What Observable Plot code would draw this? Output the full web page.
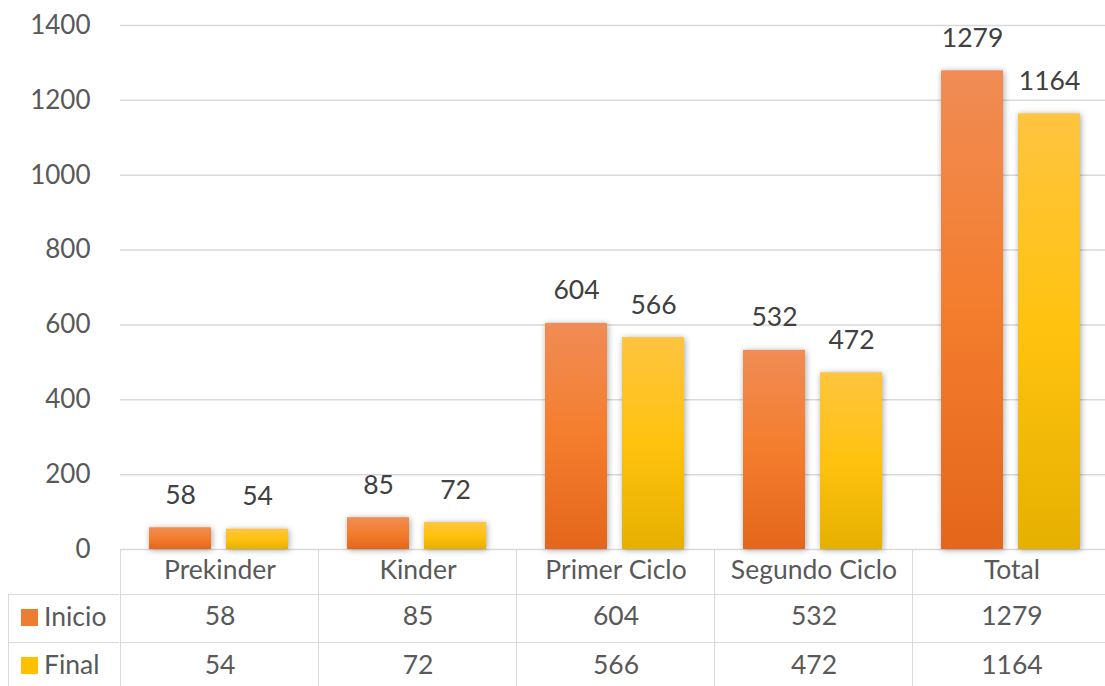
<!DOCTYPE html>
<html><head><meta charset="utf-8">
<script src="https://cdn.jsdelivr.net/npm/d3@7"></script>
<script src="https://cdn.jsdelivr.net/npm/@observablehq/plot@0.6"></script>
<style>
html,body{margin:0;padding:0;background:#fff;overflow:hidden;}
#wrap{position:relative;width:1112px;height:686px;font-family:Lato, "Open Sans", sans-serif;color:#595959;}
#wrap svg{position:absolute;left:0;top:0;}
.cell{position:absolute;box-sizing:border-box;display:flex;align-items:center;justify-content:center;font-size:26.5px;padding-bottom:6px;border-color:#d9d9d9;border-style:solid;border-width:0;}
.sw{display:inline-block;width:17px;height:17px;margin-right:6px;margin-top:4px;}
</style></head><body><div id="wrap"></div>
<script>
const categories = ["Prekinder", "Kinder", "Primer Ciclo", "Segundo Ciclo", "Total"];
const series = ["Inicio", "Final"];
const inicio = [58, 85, 604, 532, 1279];
const finalV = [54, 72, 566, 472, 1164];
const yTicks = [0, 200, 400, 600, 800, 1000, 1200, 1400];
const solidColors = ["#ED7D31", "#FFC000"];

const rows = categories.flatMap((c, i) => [
  {category: c, serie: "Inicio", value: inicio[i]},
  {category: c, serie: "Final", value: finalV[i]}
]);

const chart = Plot.plot({
  width: 1112, height: 550,
  marginTop: 25, marginBottom: 1, marginLeft: 118, marginRight: 0,
  style: {fontFamily: 'Lato, "Open Sans", sans-serif', fontSize: "26px", color: "#595959", background: "transparent", overflow: "visible"},
  fx: {domain: categories, padding: 0, axis: null},
  x: {domain: series, paddingInner: 0.19, paddingOuter: 0.375, axis: null},
  y: {domain: [0, 1400], axis: null},
  color: {domain: series, range: ["url(#gO)", "url(#gY)"]},
  marks: [
    Plot.gridY(yTicks, {stroke: "#d9d9d9", strokeOpacity: 1, strokeWidth: 1.5}),
    Plot.barY(rows, {fx: "category", x: "serie", y: "value", fill: "serie", imageFilter: "drop-shadow(1px 1px 3px rgba(0,0,0,0.35))"}),
    Plot.text(rows, {fx: "category", x: "serie", y: "value", text: d => String(d.value), dy: -24, lineAnchor: "bottom", fill: "#404040", fontSize: 26.5}),
    Plot.axisY(yTicks, {tickSize: 0, tickPadding: 30, fill: "#595959", fontSize: 26, label: null, tickFormat: d => String(d)})
  ]
});

const svg = d3.select(chart);
const defs = svg.insert("defs", ":first-child");
function grad(id, stops) {
  const g = defs.append("linearGradient").attr("id", id).attr("x1", 0).attr("y1", 0).attr("x2", 0).attr("y2", 1);
  stops.forEach(([o, c]) => g.append("stop").attr("offset", o).attr("stop-color", c));
}
grad("gO", [[0, "#F08C55"], [0.5, "#F47D2D"], [1, "#E4661C"]]);
grad("gY", [[0, "#FFC440"], [0.5, "#FFC20F"], [1, "#E6B000"]]);

const wrap = document.getElementById("wrap");
wrap.appendChild(chart);

// data table below the chart
const fx = chart.scale("fx");
const bw = fx.bandwidth;
const y0 = 549, hH = 45, rH = 48;
const w = d3.select(wrap);
function cell(left, top, width, height, borders) {
  const c = w.append("div").attr("class", "cell")
    .style("left", left + "px").style("top", top + "px")
    .style("width", width + "px").style("height", height + "px");
  c.style("border-width", borders);
  return c;
}
categories.forEach((c, i) => {
  const left = fx.apply(c);
  cell(left, y0, bw + 1, hH + 1, "0 0 1.5px 1.5px").text(c);
  cell(left, y0 + hH, bw + 1, rH + 1, "0 0 1.5px 1.5px").text(inicio[i]);
  cell(left, y0 + hH + rH, bw + 1, rH + 1, "0 0 0 1.5px").text(finalV[i]);
});
[[series[0], inicio], [series[1], finalV]].forEach(([s, _], j) => {
  const c = cell(8, y0 + hH + j * rH, 111, rH + 1, j === 0 ? "1.5px 0 1.5px 1.5px" : "0 0 0 1.5px")
    .style("justify-content", "flex-start").style("padding-left", "12px");
  c.append("span").attr("class", "sw").style("background", solidColors[j]);
  c.append("span").text(s);
});
</script>
</body></html>
